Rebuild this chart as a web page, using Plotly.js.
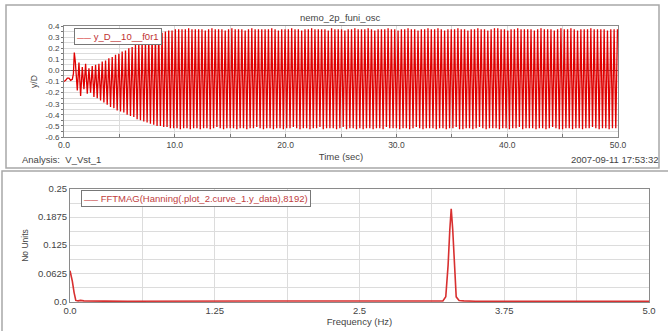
<!DOCTYPE html>
<html>
<head>
<meta charset="utf-8">
<script src="https://cdn.plot.ly/plotly-3.0.1.min.js"></script>
<style>html,body{margin:0;padding:0;background:#fff;}#chart{width:668px;height:331px;}</style>
</head>
<body>
<div id="chart"></div>
<script>
// ---- Top panel: y_D__10__f0r1 vs time (extremes of the oscillation) ----
const timeSec = [
  0,0.15,0.3,0.45,0.6,0.75,0.85,0.93,1.02,1.1,
  1.2,1.35,1.5,1.65,1.8,1.95,2.1,2.25,2.4,2.55,2.7,2.85,
  3,3.15,3.3,3.45,3.6,3.75,3.9,4.05,4.2,4.35,4.5,4.65,4.8,4.95,5.1,5.25,5.4,5.55,5.7,5.85,
  6,6.15,6.3,6.45,6.6,6.75,6.9,7.05,7.2,7.35,7.5,7.65,7.8,7.95,8.1,8.25,8.4,8.55,8.7,8.85,
  9,9.15,9.3,9.45,9.6,9.75,9.9,10.05,10.2,10.35,10.5,10.65,10.8,10.95,11.1,11.25,11.4,11.55,11.7,11.85,
  12,12.15,12.3,12.45,12.6,12.75,12.9,13.05,13.2,13.35,13.5,13.65,13.8,13.95,14.1,14.25,14.4,14.55,14.7,14.85,
  15,15.15,15.3,15.45,15.6,15.75,15.9,16.05,16.2,16.35,16.5,16.65,16.8,16.95,17.1,17.25,17.4,17.55,17.7,17.85,
  18,18.15,18.3,18.45,18.6,18.75,18.9,19.05,19.2,19.35,19.5,19.65,19.8,19.95,20.1,20.25,20.4,20.55,20.7,20.85,
  21,21.15,21.3,21.45,21.6,21.75,21.9,22.05,22.2,22.35,22.5,22.65,22.8,22.95,23.1,23.25,23.4,23.55,23.7,23.85,
  24,24.15,24.3,24.45,24.6,24.75,24.9,25.05,25.2,25.35,25.5,25.65,25.8,25.95,26.1,26.25,26.4,26.55,26.7,26.85,
  27,27.15,27.3,27.45,27.6,27.75,27.9,28.05,28.2,28.35,28.5,28.65,28.8,28.95,29.1,29.25,29.4,29.55,29.7,29.85,
  30,30.15,30.3,30.45,30.6,30.75,30.9,31.05,31.2,31.35,31.5,31.65,31.8,31.95,32.1,32.25,32.4,32.55,32.7,32.85,
  33,33.15,33.3,33.45,33.6,33.75,33.9,34.05,34.2,34.35,34.5,34.65,34.8,34.95,35.1,35.25,35.4,35.55,35.7,35.85,
  36,36.15,36.3,36.45,36.6,36.75,36.9,37.05,37.2,37.35,37.5,37.65,37.8,37.95,38.1,38.25,38.4,38.55,38.7,38.85,
  39,39.15,39.3,39.45,39.6,39.75,39.9,40.05,40.2,40.35,40.5,40.65,40.8,40.95,41.1,41.25,41.4,41.55,41.7,41.85,
  42,42.15,42.3,42.45,42.6,42.75,42.9,43.05,43.2,43.35,43.5,43.65,43.8,43.95,44.1,44.25,44.4,44.55,44.7,44.85,
  45,45.15,45.3,45.45,45.6,45.75,45.9,46.05,46.2,46.35,46.5,46.65,46.8,46.95,47.1,47.25,47.4,47.55,47.7,47.85,
  48,48.15,48.3,48.45,48.6,48.75,48.9,49.05,49.2,49.35,49.5,49.65,49.8,49.95
];
const yD = [
  -0.10,-0.09,-0.07,-0.07,-0.09,-0.08,-0.03,0.16,0.08,-0.02,
  -0.18,0.07,-0.23,0.03,-0.17,0.06,-0.21,0.02,-0.20,0.04,-0.24,0.05,
  -0.25,0.06,-0.27,0.08,-0.29,0.09,-0.31,0.11,-0.33,0.12,-0.34,0.14,-0.36,0.15,-0.37,0.17,-0.38,0.18,-0.40,0.20,
  -0.41,0.21,-0.42,0.23,-0.44,0.24,-0.45,0.26,-0.46,0.27,-0.47,0.29,-0.48,0.30,-0.49,0.31,-0.50,0.33,-0.50,0.34,
  -0.51,0.35,-0.51,0.36,-0.52,0.36,-0.52,0.37,-0.52,0.37,-0.53,0.37,-0.52,0.37,-0.52,0.38,-0.53,0.37,-0.52,0.37,
  -0.52,0.37,-0.53,0.37,-0.52,0.36,-0.52,0.37,-0.53,0.38,-0.52,0.37,-0.51,0.37,-0.52,0.37,-0.53,0.36,-0.52,0.37,
  -0.52,0.38,-0.52,0.37,-0.53,0.37,-0.52,0.37,-0.52,0.36,-0.53,0.37,-0.52,0.38,-0.52,0.37,-0.51,0.37,-0.52,0.37,
  -0.53,0.37,-0.52,0.37,-0.52,0.38,-0.53,0.37,-0.52,0.36,-0.52,0.37,-0.53,0.37,-0.52,0.37,-0.52,0.38,-0.51,0.37,
  -0.52,0.37,-0.53,0.36,-0.52,0.37,-0.52,0.37,-0.53,0.38,-0.52,0.37,-0.52,0.37,-0.51,0.37,-0.53,0.37,-0.52,0.36,
  -0.52,0.38,-0.52,0.37,-0.53,0.37,-0.52,0.37,-0.51,0.36,-0.53,0.37,-0.52,0.37,-0.52,0.38,-0.53,0.37,-0.52,0.37,
  -0.53,0.37,-0.52,0.38,-0.52,0.37,-0.53,0.36,-0.52,0.37,-0.52,0.37,-0.53,0.37,-0.51,0.38,-0.52,0.37,-0.52,0.37,
  -0.52,0.36,-0.53,0.37,-0.52,0.37,-0.52,0.38,-0.53,0.37,-0.52,0.37,-0.51,0.36,-0.52,0.37,-0.53,0.37,-0.52,0.38,
  -0.52,0.37,-0.52,0.37,-0.53,0.38,-0.52,0.37,-0.52,0.36,-0.53,0.37,-0.52,0.37,-0.52,0.37,-0.51,0.38,-0.53,0.37,
  -0.53,0.37,-0.52,0.36,-0.52,0.37,-0.53,0.37,-0.52,0.38,-0.51,0.37,-0.52,0.37,-0.53,0.36,-0.52,0.37,-0.52,0.38,
  -0.52,0.38,-0.53,0.37,-0.52,0.37,-0.52,0.36,-0.53,0.37,-0.52,0.37,-0.52,0.38,-0.51,0.37,-0.53,0.37,-0.52,0.37,
  -0.52,0.37,-0.52,0.36,-0.53,0.37,-0.52,0.38,-0.52,0.37,-0.53,0.37,-0.52,0.37,-0.51,0.36,-0.52,0.37,-0.53,0.38,
  -0.53,0.37,-0.52,0.37,-0.52,0.38,-0.53,0.37,-0.52,0.36,-0.52,0.37,-0.53,0.37,-0.52,0.37,-0.52,0.38,-0.51,0.37,
  -0.52,0.37,-0.53,0.37,-0.52,0.37,-0.52,0.36,-0.53,0.37,-0.52,0.37,-0.52,0.37
];
const topXTicks = [0, 10, 20, 30, 40, 50];
const topXLabels = ["0.0", "10.0", "20.0", "30.0", "40.0", "50.0"];
const topYTicks = [-0.6, -0.5, -0.4, -0.3, -0.2, -0.1, 0, 0.1, 0.2, 0.3, 0.4];
const topYLabels = ["-0.6", "-0.5", "-0.4", "-0.3", "-0.2", "-0.1", "0.0", "0.1", "0.2", "0.3", "0.4"];

// ---- Bottom panel: FFT magnitude ----
const freqHz = [0,0.01,0.02,0.035,0.05,0.07,0.09,0.12,0.15,0.18,0.21,0.23,0.3,0.5,1.0,1.5,1.55,1.6,2.0,2.5,3.0,3.2,3.22,3.245,3.265,3.28,3.292,3.305,3.32,3.335,3.36,3.4,3.5,4.0,4.5,5.0];
const fftMag = [0.068,0.058,0.045,0.02,0.002,0.001,0.002,0.001,0.001,0.002,0.002,0.001,0.0004,0.0003,0.0002,0.0002,0.001,0.0002,0.0002,0.0002,0.0002,0.0003,0.001,0.01,0.08,0.16,0.206,0.16,0.07,0.01,0.002,0.001,0.0003,0.0002,0.0002,0.0003];
const botXTicks = [0, 1.25, 2.5, 3.75, 5];
const botXLabels = ["0.0", "1.25", "2.5", "3.75", "5.0"];
const botYTicks = [0, 0.0625, 0.125, 0.1875, 0.25];
const botYLabels = ["0.0", "0.0625", "0.125", "0.1875", "0.25"];

const W = 668, H = 331;
const px = v => v / W;
const py = v => 1 - v / H;
const FONT = "Liberation Sans, Arial, sans-serif";
const GRID = "#dcdcdc";
const TXT = "#444";

const traces = [
  {x: timeSec, y: yD, xaxis: "x", yaxis: "y", type: "scatter", mode: "lines",
   line: {color: "#e00000", width: 1.3}, name: "y_D__10__f0r1", showlegend: false},
  {x: freqHz, y: fftMag, xaxis: "x2", yaxis: "y2", type: "scatter", mode: "lines",
   line: {color: "#d83030", width: 1.6}, name: "FFTMAG(Hanning(.plot_2.curve_1.y_data),8192)", showlegend: false}
];

const axCommon = {
  showline: true, mirror: true, linecolor: "#8a8a8a", linewidth: 1,
  showgrid: true, gridcolor: GRID, gridwidth: 1, zeroline: false,
  tickmode: "array", tickcolor: "#777", tickfont: {family: FONT, color: TXT}
};

const layout = {
  width: W, height: H,
  margin: {l: 0, r: 0, t: 0, b: 0},
  paper_bgcolor: "#fff", plot_bgcolor: "#fff",
  showlegend: false,
  font: {family: FONT, color: TXT},
  xaxis: Object.assign({}, axCommon, {
    domain: [px(64), px(618)], anchor: "y", range: [0, 50],
    tickvals: topXTicks, ticktext: topXLabels, ticks: "inside", ticklen: 3,
    tickfont: {family: FONT, color: TXT, size: 8.5},
    minor: {tickmode: "linear", tick0: 0, dtick: 5, showgrid: true, gridcolor: GRID, ticks: "inside", ticklen: 3, tickcolor: "#777"},
    title: {text: "Time (sec)", font: {family: FONT, size: 9.5, color: TXT}, standoff: 4}
  }),
  yaxis: Object.assign({}, axCommon, {
    domain: [py(137), py(26)], anchor: "x", range: [-0.6, 0.4],
    tickvals: topYTicks, ticktext: topYLabels, ticks: "outside", ticklen: 2,
    tickfont: {family: FONT, color: TXT, size: 8},
    zeroline: true, zerolinecolor: "#707070", zerolinewidth: 1,
    minor: {tickmode: "linear", tick0: 0, dtick: 0.05, showgrid: true, gridcolor: GRID, ticks: "outside", ticklen: 2, tickcolor: "#777"},
    title: {text: "y/D", font: {family: FONT, size: 8.5, color: TXT}, standoff: 6}
  }),
  xaxis2: Object.assign({}, axCommon, {
    domain: [px(70), px(649)], anchor: "y2", range: [0, 5],
    tickvals: botXTicks, ticktext: botXLabels, ticks: "",
    tickfont: {family: FONT, color: TXT, size: 9.5},
    minor: {tickmode: "linear", tick0: 0, dtick: 0.625, showgrid: true, gridcolor: GRID},
    title: {text: "Frequency (Hz)", font: {family: FONT, size: 9.5, color: TXT}, standoff: 2}
  }),
  yaxis2: Object.assign({}, axCommon, {
    domain: [py(302), py(189)], anchor: "x2", range: [-0.0015, 0.25],
    tickvals: botYTicks, ticktext: botYLabels, ticks: "",
    tickfont: {family: FONT, color: TXT, size: 9.5},
    minor: {tickmode: "linear", tick0: 0, dtick: 0.03125, showgrid: true, gridcolor: GRID},
    title: {text: "No Units", font: {family: FONT, size: 8.5, color: TXT}, standoff: 8}
  }),
  shapes: [
    {type: "rect", xref: "paper", yref: "paper", x0: px(6), x1: px(659), y0: py(168), y1: py(5),
     line: {color: "#a8a8a8", width: 1.5}, fillcolor: "rgba(0,0,0,0)", layer: "below"},
    {type: "rect", xref: "paper", yref: "paper", x0: px(2), x1: px(672), y0: py(336), y1: py(171),
     line: {color: "#a8a8a8", width: 1.5}, fillcolor: "rgba(0,0,0,0)", layer: "below"}
  ],
  annotations: [
    {xref: "paper", yref: "paper", x: px(340), y: py(18), xanchor: "center", yanchor: "middle",
     text: "nemo_2p_funi_osc", showarrow: false, font: {family: FONT, size: 9.5, color: TXT}},
    {xref: "paper", yref: "paper", x: px(20), y: py(159), xanchor: "left", yanchor: "middle",
     text: "Analysis:  V_Vst_1", showarrow: false, font: {family: FONT, size: 9.5, color: TXT}},
    {xref: "paper", yref: "paper", x: px(661), y: py(159), xanchor: "right", yanchor: "middle",
     text: "2007-09-11 17:53:32", showarrow: false, font: {family: FONT, size: 9.5, color: TXT}},
    {xref: "paper", yref: "paper", x: px(74), y: py(28), xanchor: "left", yanchor: "top",
     text: "<span style='color:#d01010;font-size:7px'>——</span> y_D__10__f0r1", showarrow: false,
     font: {family: FONT, size: 9.5, color: "#c03030"},
     bgcolor: "#fff", bordercolor: "#777", borderwidth: 1, borderpad: 2},
    {xref: "paper", yref: "paper", x: px(81), y: py(190), xanchor: "left", yanchor: "top",
     text: "<span style='color:#c02020;font-size:7px'>——</span> FFTMAG(Hanning(.plot_2.curve_1.y_data),8192)", showarrow: false,
     font: {family: FONT, size: 9.5, color: "#c04040"},
     bgcolor: "#fff", bordercolor: "#777", borderwidth: 1, borderpad: 2}
  ]
};

Plotly.newPlot("chart", traces, layout, {staticPlot: true, displayModeBar: false});
</script>
</body>
</html>
